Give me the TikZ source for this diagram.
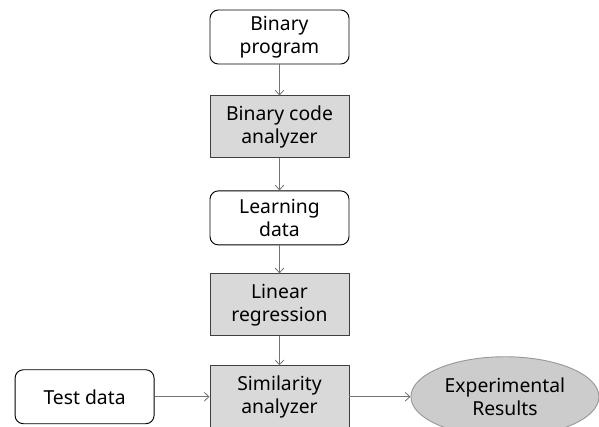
\documentclass[tikz,border=0pt]{standalone}
\usepackage{fontspec}
\setmainfont{Noto Sans}
\usetikzlibrary{positioning, arrows.meta, shapes.geometric}

\begin{document}
\begin{tikzpicture}[
    font=\fontsize{16.5}{19.5}\selectfont,
    node distance=0.9cm and 1.65cm,
    data/.style={rectangle, draw=black, rounded corners=2.5mm, thick,
                 minimum width=4.17cm, minimum height=1.62cm,
                 align=center, fill=white},
    process/.style={rectangle, draw=black!75, fill=black!15, thick,
                    minimum width=4.17cm, minimum height=1.86cm,
                    align=center},
    result/.style={ellipse, draw=black!40, fill=black!20, thick,
                   minimum width=5.64cm, minimum height=2.4cm,
                   align=center, inner sep=0pt},
    arrow/.style={-{Straight Barb[length=1.4mm, width=2.6mm]},
                  draw=black!55, line width=0.7pt}
]
\useasboundingbox (0,0) rectangle (17.97,-12.81);
% --- Flujo principal ---
\node[data] (binprog) at (8.385,-1.11) {Binary\\program};
\node[process, below=0.93cm of binprog] (bincode) {Binary code\\analyzer};
\node[data, below=0.96cm of bincode] (learning) {Learning\\data};
\node[process, below=0.84cm of learning] (linreg) {Linear\\regression};
\node[process, below=0.87cm of linreg] (simil) {Similarity\\analyzer};
% --- Entrada y salida ---
\node[data, left=1.65cm of simil] (testdata) {Test data};
\node[result, right=1.83cm of simil] (results) {Experimental\\Results};
% --- Flechas ---
\foreach \a/\b in {binprog/bincode, bincode/learning, learning/linreg,
                   linreg/simil, testdata/simil, simil/results}
    \draw[arrow] (\a) -- (\b);
\end{tikzpicture}
\end{document}
